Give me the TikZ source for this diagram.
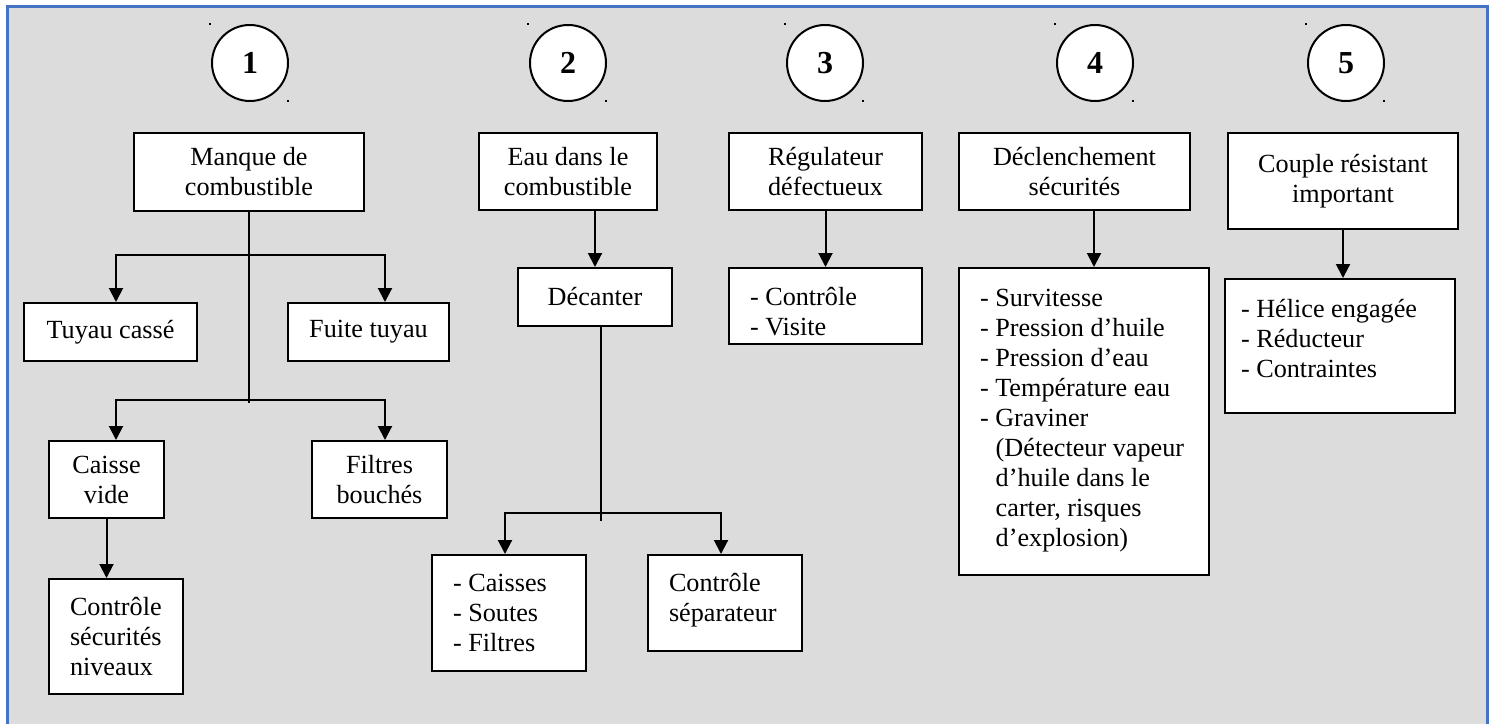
\documentclass[tikz,border=0pt]{standalone}
\usepackage{fontspec}
\setmainfont{Liberation Serif}
\usetikzlibrary{arrows.meta}
\definecolor{fondgris}{RGB}{220,220,220}
\definecolor{cadrebleu}{RGB}{68,114,196}

\begin{document}
\begin{tikzpicture}[x=0.5pt,y=-0.5pt, >={Triangle[width=7pt,length=7pt]},
  boite/.style={draw, line width=1pt, fill=white, inner sep=0pt, align=center, font=\fontsize{13.1}{15}\selectfont},
  liste/.style={boite, align=flush left},
  rond/.style={circle, draw, line width=1pt, fill=white, minimum size=38pt, inner sep=0pt, font=\fontsize{16}{18}\selectfont\bfseries},
  lien/.style={line width=1pt},
  fleche/.style={lien, ->}]
\useasboundingbox (0,0) rectangle (1493,724);
\fill[fondgris] (7,6) rectangle (1487,724);
\draw[cadrebleu, line width=1.5pt] (7,724) -- (7,6) -- (1487,6) -- (1487,724);

\foreach \cx/\num in {250/1, 568/2, 825/3, 1095/4, 1346/5} {
  \node (c\num) at (\cx,63) [rond] {\num};
  \fill (\cx-41,23) rectangle ++(2,2);
  \fill (\cx+37,100) rectangle ++(2,2);
}

\node (manque) at (249,172) [boite, minimum width=115pt, minimum height=39pt] {Manque de\\combustible};
\node (tuyau) at (110.5,332) [boite, minimum width=86.5pt, minimum height=29pt] {Tuyau cassé};
\node (fuite) at (368.5,332) [boite, minimum width=80.5pt, minimum height=29pt] {Fuite tuyau};
\node (caisse) at (106.5,479.5) [boite, minimum width=57.5pt, minimum height=38.5pt] {Caisse\\vide};
\node (filtres) at (379.5,479.5) [boite, minimum width=67.5pt, minimum height=38.5pt] {Filtres\\bouchés};
\node (ctrlniv) at (116,636.5) [liste, text width=46pt, inner xsep=10.5pt, minimum height=57.5pt] {Contrôle\\sécurités\\niveaux};

\node (eau) at (568,171.5) [boite, minimum width=89pt, minimum height=38.5pt] {Eau dans le\\combustible};
\node (decanter) at (595,297) [boite, minimum width=77pt, minimum height=29pt] {Décanter};
\node (caisses) at (509,613) [liste, text width=56pt, inner xsep=10.5pt, minimum height=58pt] {- Caisses\\- Soutes\\- Filtres};
\node (separateur) at (725,603) [liste, text width=56pt, inner xsep=10.5pt, minimum height=48pt] {Contrôle\\séparateur\\[-9pt]\mbox{}};

\node (regul) at (825.5,171.5) [boite, minimum width=96.5pt, minimum height=38.5pt] {Régulateur\\défectueux};
\node (ctrlvis) at (825.5,306) [liste, text width=75.5pt, inner xsep=10.5pt, minimum height=38pt] {- Contrôle\\- Visite\\[-20pt]\mbox{}};

\node (declench) at (1074.5,171.5) [boite, minimum width=115.5pt, minimum height=38.5pt] {Déclenchement\\sécurités};
\node (survit) at (1084,421.5) [liste, text width=104pt, inner xsep=10.5pt, minimum height=153.5pt] {- Survitesse\\- Pression d’huile\\- Pression d’eau\\- Température eau\\- Graviner\\\hspace*{0.6em}(Détecteur vapeur\\\hspace*{0.6em}d’huile dans le\\\hspace*{0.6em}carter, risques\\\hspace*{0.6em}d’explosion)\\[-11pt]\mbox{}};

\node (couple) at (1343,181) [boite, minimum width=115pt, minimum height=48pt] {Couple résistant\\important};
\node (helice) at (1340,346) [liste, text width=99pt, inner xsep=8pt, minimum height=67pt] {- Hélice engagée\\- Réducteur\\- Contraintes\\[-7pt]\mbox{}};

\coordinate (n1) at (249,255);
\coordinate (n2) at (249,400);
\coordinate (q1) at (249,403);
\draw[lien] (manque.south) -- (q1);
\draw[fleche] (n1) -| ([xshift=2.75pt]tuyau.north);
\draw[fleche] (n1) -| ([xshift=8.25pt]fuite.north);
\draw[fleche] (n2) -| ([xshift=4.75pt]caisse.north);
\draw[fleche] (n2) -| ([xshift=2.75pt]filtres.north);
\draw[fleche] (caisse.south) -- (caisse.south |- ctrlniv.north);

\coordinate (n3) at (601,513);
\coordinate (q3) at (601,521);
\draw[fleche] (eau.south -| decanter) -- (decanter.north);
\draw[lien] ([xshift=3pt]decanter.south) -- (q3);
\draw[fleche] (n3) -| ([xshift=-2pt]caisses.north);
\draw[fleche] (n3) -| ([xshift=-2pt]separateur.north);

\draw[fleche] (regul) -- (ctrlvis);
\draw[fleche] ([xshift=9.75pt]declench.south) -- ([xshift=9.75pt]declench.south |- survit.north);
\draw[fleche] (couple.south) -- (couple.south |- helice.north);
\end{tikzpicture}
\end{document}
